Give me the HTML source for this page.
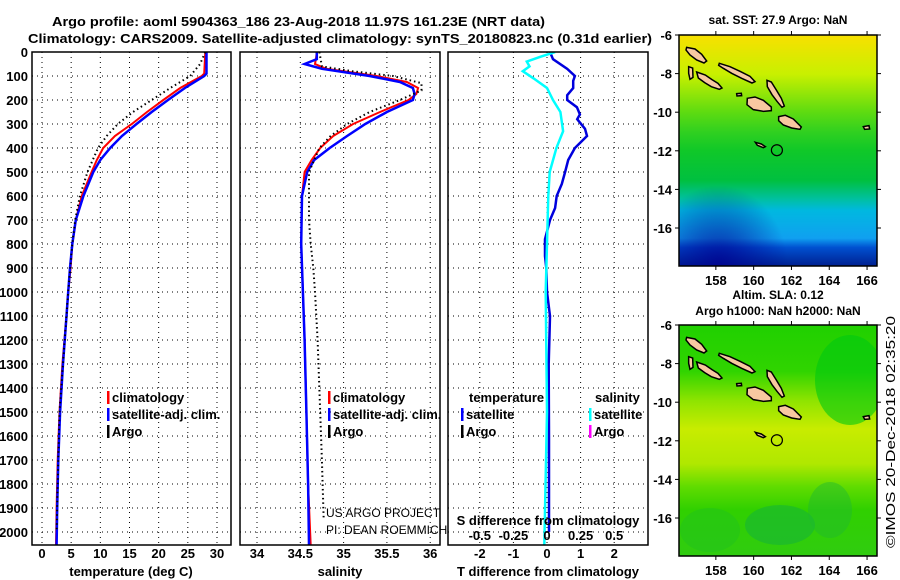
<!DOCTYPE html>
<html><head><meta charset="utf-8"><style>
html,body{margin:0;padding:0;background:#fff;}
svg{display:block;font-family:"Liberation Sans",Arial,sans-serif;}
.b{font-weight:bold;font-size:13px;fill:#000}
</style></head><body>
<svg id="chart" width="900" height="580" viewBox="0 0 900 580">
<defs>
<linearGradient id="sstg" x1="0" y1="0" x2="0" y2="1">
<stop offset="0" stop-color="#f8e000"/><stop offset="0.17" stop-color="#c8f000"/>
<stop offset="0.33" stop-color="#60dc10"/><stop offset="0.42" stop-color="#30d020"/>
<stop offset="0.5" stop-color="#10c828"/><stop offset="0.63" stop-color="#00c040"/>
<stop offset="0.71" stop-color="#00c0a0"/><stop offset="0.76" stop-color="#00b8e0"/>
<stop offset="0.88" stop-color="#10a0f0"/><stop offset="0.92" stop-color="#0050d0"/>
<stop offset="1" stop-color="#002090"/>
</linearGradient>
<radialGradient id="sstdark" cx="0.2" cy="1" r="0.35"><stop offset="0" stop-color="#000090" stop-opacity="0.8"/><stop offset="1" stop-color="#000090" stop-opacity="0"/></radialGradient>
<linearGradient id="slag" x1="0" y1="0" x2="0" y2="1">
<stop offset="0" stop-color="#20d000"/><stop offset="0.2" stop-color="#30d400"/>
<stop offset="0.33" stop-color="#90e400"/><stop offset="0.45" stop-color="#c8ec00"/>
<stop offset="0.6" stop-color="#b0e800"/><stop offset="0.7" stop-color="#60dc00"/>
<stop offset="0.8" stop-color="#30d000"/><stop offset="1" stop-color="#30cc10"/>
</linearGradient>
<clipPath id="c1"><rect x="32" y="52" width="199" height="493"/></clipPath>
<clipPath id="c2"><rect x="240" y="52" width="200" height="493"/></clipPath>
<clipPath id="c3"><rect x="448" y="52" width="200" height="493"/></clipPath>
<clipPath id="cm1"><rect x="679" y="35" width="198" height="231"/></clipPath>
<clipPath id="cm2"><rect x="679" y="325" width="198" height="231"/></clipPath>
</defs>
<text class="b" x="52" y="26" textLength="493" lengthAdjust="spacingAndGlyphs">Argo profile: aoml 5904363_186 23-Aug-2018 11.97S 161.23E (NRT data)</text>
<text class="b" x="28" y="43" textLength="624" lengthAdjust="spacingAndGlyphs">Climatology: CARS2009. Satellite-adjusted climatology: synTS_20180823.nc (0.31d earlier)</text>
<g id="grid"></g>
<g id="series"></g>
<g id="frames"></g>
<g id="labels"></g>
<g id="maps"></g>
</svg>
<script>
// ---- data ----
var depthTicks=[0,100,200,300,400,500,600,700,800,900,1000,1100,1200,1300,1400,1500,1600,1700,1800,1900,2000];
var tempTicks=[0,5,10,15,20,25,30];
var salTicks=[34,34.5,35,35.5,36];
var tdiffTicks=[-2,-1,0,1,2];
var sdiffTicks=[-0.5,-0.25,0,0.25,0.5];
var tempDepth=[0,90,100,150,200,250,300,350,400,450,500,600,700,800,900,1000,1100,1300,1500,1700,1900,2055];
var tempClim=[28.0,27.8,27.4,23.7,20.8,18.0,15.4,12.5,10.5,9.4,8.5,6.8,5.8,5.2,4.9,4.5,4.2,3.5,3.0,2.7,2.5,2.4];
var tempSat=[28.2,28.2,27.8,24.5,21.6,18.8,16.2,13.7,11.7,10.0,8.8,7.1,5.8,5.2,4.8,4.5,4.2,3.6,3.1,2.8,2.6,2.5];
var argoTDepth=[0,50,100,150,200,250,300,350,400,500,600,700,800,1000,1200,1500,1800,2000];
var argoTemp=[28.0,27.1,25.4,22.0,18.8,15.6,13.0,11.1,9.6,7.8,6.5,5.7,5.2,4.5,3.9,3.0,2.7,2.5];
var salDepth=[0,30,50,70,100,125,150,175,200,250,300,350,400,450,500,600,800,1000,1200,1500,1800,2055];
var salClim=[34.69,34.68,34.67,34.8,35.38,35.73,35.86,35.84,35.75,35.42,35.11,34.88,34.73,34.63,34.55,34.52,34.51,34.53,34.55,34.57,34.59,34.62];
var salSat=[34.69,34.69,34.55,34.75,35.3,35.65,35.8,35.82,35.8,35.5,35.25,35.04,34.84,34.66,34.58,34.52,34.51,34.53,34.55,34.57,34.59,34.6];
var argoSDepth=[0,60,80,100,130,160,200,250,300,350,400,500,600,700,800,900,1000,1200,1500,1700,1950];
var argoSal=[34.72,34.75,35.1,35.57,35.9,35.9,35.65,35.3,35.04,34.85,34.72,34.6,34.6,34.6,34.62,34.65,34.67,34.7,34.73,34.75,34.77];
var tdDepth=[0,30,70,100,120,150,180,200,230,260,280,320,350,400,450,500,550,600,650,700,780,850,900,1000,1100,1300,1600,2000];
var tdSat=[0.09,0.18,0.6,0.83,0.78,0.78,0.6,0.6,0.89,0.98,0.9,1.13,1.19,0.83,0.63,0.54,0.44,0.29,0.24,0.09,-0.06,-0.06,-0.02,0.0,0.09,0.05,0.06,0.06];
var sdDepth=[0,20,40,60,80,110,150,200,250,330,400,500,600,800,1000,1500,2055];
var sdSat=[0.06,-0.05,-0.15,-0.13,-0.18,-0.1,0,0.045,0.1,0.12,0.07,0.02,0.01,0,-0.01,0,-0.02];
// ---- scales ----
function yD(d){return 52+d*0.24;}
function xT(t){return 42+t*5.833;}
function xS(s){return 257+(s-34)*86.6;}
function xDT(v){return 547+v*33.6;}
function xDS(v){return 547+v*134.4;}
var NS='http://www.w3.org/2000/svg';
function mk(tag,attrs,parent,txt){var e=document.createElementNS(NS,tag);for(var k in attrs)e.setAttribute(k,attrs[k]);if(txt!==undefined)e.textContent=txt;parent.appendChild(e);return e;}
var grid=document.getElementById('grid'),ser=document.getElementById('series'),fr=document.getElementById('frames'),lab=document.getElementById('labels'),maps=document.getElementById('maps');
var panels=[{x0:32,x1:231,ticks:tempTicks,f:xT},{x0:240,x1:440,ticks:salTicks,f:xS},{x0:448,x1:648,ticks:tdiffTicks,f:xDT}];
panels.forEach(function(p,i){
  depthTicks.forEach(function(d){
    var l=mk('line',{x1:p.x0,x2:p.x1,y1:yD(d),y2:yD(d),stroke:'#000','stroke-width':1,'stroke-dasharray':'1 4'},grid);
    
    
  });
  p.ticks.forEach(function(t){
    var x=p.f(t);
    var l=mk('line',{x1:x,x2:x,y1:52,y2:545,stroke:'#000','stroke-width':1,'stroke-dasharray':'1 4'},grid);
    
    
    var tk=mk('text',{x:x,y:558,'text-anchor':'middle','font-size':13,'font-weight':'bold'},lab,String(t));
    
    
  });
  var r=mk('rect',{x:p.x0,y:52,width:p.x1-p.x0,height:493,fill:'none',stroke:'#000','stroke-width':1.5},fr);
  
  
});
depthTicks.forEach(function(d){
  var t=mk('text',{x:28,y:yD(d)+5,'text-anchor':'end','font-size':13,'font-weight':'bold'},lab,String(d));
  
  
});
sdiffTicks.forEach(function(v){
  var t=mk('text',{x:xDS(v),y:540,'text-anchor':'middle','font-size':13,'font-weight':'bold'},lab,String(v));
  
  
});
function line(ds,vs,f,color,w,dash,clip,name){
  var pts=ds.map(function(d,i){return f(vs[i]).toFixed(1)+','+yD(d).toFixed(1);}).join(' ');
  var a={points:pts,fill:'none',stroke:color,'stroke-width':w,'clip-path':'url(#'+clip+')'};
  if(dash)a['stroke-dasharray']=dash;
  var e=mk('polyline',a,ser);
  
  
}
line(tempDepth,tempClim,xT,'#ff0000',2,null,'c1','temp-climatology-line');
line(tempDepth,tempSat,xT,'#0000ff',2.5,null,'c1','temp-satellite-line');
line(argoTDepth,argoTemp,xT,'#000',2,'1.5 3','c1','temp-argo-line');
line(salDepth,salClim,xS,'#ff0000',2,null,'c2','salinity-climatology-line');
line(salDepth,salSat,xS,'#0000ff',2.5,null,'c2','salinity-satellite-line');
line(argoSDepth,argoSal,xS,'#000',2,'1.5 3','c2','salinity-argo-line');
line(tdDepth,tdSat,xDT,'#0000dd',2.5,null,'c3','t-diff-satellite-line');
line(sdDepth,sdSat,xDS,'#00ffff',2.5,null,'c3','s-diff-satellite-line');
// axis titles & legends
function txt(x,y,s,name,opts){var a={x:x,y:y,'font-size':13,'font-weight':'bold'};for(var k in (opts||{}))a[k]=opts[k];var t=mk('text',a,lab,s);return t;}
txt(131,576,'temperature (deg C)','x-axis-title-temperature',{'text-anchor':'middle'});
txt(340,576,'salinity','x-axis-title-salinity',{'text-anchor':'middle'});
txt(548,576,'T difference from climatology','x-axis-title-t-difference',{'text-anchor':'middle'});
txt(548,525,'S difference from climatology','x-axis-title-s-difference',{'text-anchor':'middle'});
function leg(x,y,color,s,name){var r=mk('rect',{x:x,y:y-11,width:2.5,height:13,fill:color},lab);txt(x+5,y,s,name);}
[[107,'temp'],[328,'salinity']].forEach(function(o){
  leg(o[0],402,'#ff0000','climatology','legend-'+o[1]+'-climatology');
  leg(o[0],419,'#0000ff','satellite-adj. clim.','legend-'+o[1]+'-satellite');
  leg(o[0],436,'#000','Argo','legend-'+o[1]+'-argo');
});
txt(469,402,'temperature','legend-header-temperature');
txt(595,402,'salinity','legend-header-salinity');
leg(461,419,'#0000ff','satellite','legend-tdiff-satellite');
leg(461,436,'#000','Argo','legend-tdiff-argo');
leg(589,419,'#00ffff','satellite','legend-sdiff-satellite');
leg(589,436,'#ff00ff','Argo','legend-sdiff-argo');
txt(326,517,'US ARGO PROJECT','credit-us-argo',{'font-weight':'normal','font-size':12});
txt(326,534,'PI: DEAN ROEMMICH','credit-pi',{'font-weight':'normal','font-size':12});
// maps
var lonTicks=[158,160,162,164,166];
var latTicks=[-6,-8,-10,-12,-14,-16];
var floatPos=[161.23,-11.97];
function mx(lon){return 679+(lon-156.05)*18.9;}
function my(lat,top){return top+(-6-lat)*19.3;}
var islands=[
[[140,142],[165,147],[185,163],[200,183],[192,189],[170,180],[150,165],[138,150]],
[[238,190],[270,200],[300,214],[330,229],[345,245],[336,249],[305,235],[275,220],[250,205],[236,196]],
[[146,200],[158,204],[159,232],[150,238],[146,220]],
[[170,216],[196,225],[216,239],[234,250],[246,264],[238,268],[214,260],[194,248],[175,234]],
[[322,295],[345,291],[370,301],[394,321],[394,332],[370,334],[340,329],[321,314]],
[[381,241],[394,246],[409,270],[424,295],[433,318],[426,322],[411,304],[396,284],[382,260]],
[[416,350],[436,346],[460,357],[484,381],[480,388],[455,384],[430,375],[416,362]],
[[670,380],[687,377],[689,387],[674,388]],
[[346,427],[364,432],[376,440],[370,443],[352,436]],
[[290,281],[304,280],[305,287],[291,288]]
];
function drawMap(top,fillId,clip,title1,title2,name){
  var g=mk('g',{},maps);
  var cg=mk('g',{'clip-path':'url(#'+clip+')'},g);
  mk('rect',{x:679,y:top,width:198,height:231,fill:'url(#'+fillId+')'},cg);
  if(fillId==='sstg'){
    mk('rect',{x:679,y:top,width:198,height:231,fill:'url(#sstdark)'},cg);
  } else {
    mk('ellipse',{cx:850,cy:top+55,rx:35,ry:45,fill:'#00c810',opacity:0.6},cg);
    mk('ellipse',{cx:780,cy:top+200,rx:35,ry:20,fill:'#10b040',opacity:0.5},cg);
    mk('ellipse',{cx:830,cy:top+185,rx:22,ry:28,fill:'#20b830',opacity:0.45},cg);
    mk('ellipse',{cx:710,cy:top+205,rx:30,ry:22,fill:'#20c020',opacity:0.45},cg);
  }
  var ig=mk('g',{transform:'translate(640,'+(top-35)+') scale(0.3333)'},cg);
  islands.forEach(function(p){mk('polygon',{points:p.map(function(q){return q.join(',');}).join(' '),fill:'#f8c8a0',stroke:'#000','stroke-width':4.5},ig);});
  var c=mk('circle',{cx:mx(floatPos[0]),cy:my(floatPos[1],top),r:5.5,fill:'none',stroke:'#000','stroke-width':1.2},g);
  
  mk('rect',{x:679,y:top,width:198,height:231,fill:'none',stroke:'#000','stroke-width':1.5},g);
  lonTicks.forEach(function(l){var x=mx(l);mk('line',{x1:x,x2:x,y1:top+231,y2:top+235,stroke:'#000'},g);mk('line',{x1:x,x2:x,y1:top,y2:top-4,stroke:'#000'},g);
    var t=mk('text',{x:x,y:top+250,'text-anchor':'middle','font-size':13,'font-weight':'bold'},g,String(l));});
  latTicks.forEach(function(l){var y=my(l,top);mk('line',{x1:675,x2:679,y1:y,y2:y,stroke:'#000'},g);mk('line',{x1:877,x2:881,y1:y,y2:y,stroke:'#000'},g);
    var t=mk('text',{x:672,y:y+5,'text-anchor':'end','font-size':13,'font-weight':'bold'},g,String(l));});
  var t1=mk('text',{x:778,y:title2?top-26:top-11,'text-anchor':'middle','font-size':12,'font-weight':'bold'},g,title1);
  if(title2){var t2=mk('text',{x:778,y:top-10,'text-anchor':'middle','font-size':12,'font-weight':'bold'},g,title2);}
}
drawMap(35,'sstg','cm1','sat. SST: 27.9 Argo: NaN',null,'sst-map');
drawMap(325,'slag','cm2','Altim. SLA: 0.12','Argo h1000: NaN h2000: NaN','sla-map');
var cr=mk('text',{x:0,y:0,transform:'translate(895,548) rotate(-90)','font-size':13,'text-anchor':'start','textLength':232,'lengthAdjust':'spacingAndGlyphs'},maps,'©IMOS 20-Dec-2018 02:35:20');


</script>
</body></html>
